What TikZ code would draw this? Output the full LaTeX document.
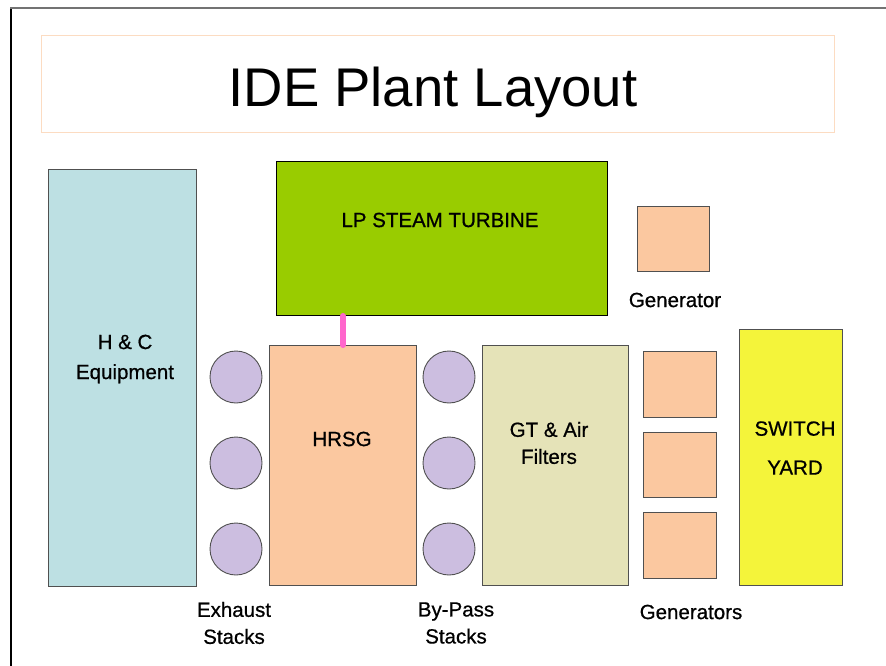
\documentclass[tikz,border=0pt]{standalone}
\usepackage{fontspec}
\setmainfont{Liberation Sans}
\newfontfamily\lblfont[FakeBold=0.7]{Liberation Sans}
\definecolor{hcblue}{HTML}{BDE0E3}
\definecolor{lpgreen}{HTML}{99CC00}
\definecolor{peach}{HTML}{FBC8A0}
\definecolor{lavender}{HTML}{CCBEE0}
\definecolor{khaki}{HTML}{E5E3B8}
\definecolor{swyellow}{HTML}{F4F43A}
\definecolor{pinkline}{HTML}{FF66CC}
\definecolor{titleedge}{HTML}{FCDCC2}
\definecolor{edgegray}{HTML}{505050}
\begin{document}
\begin{tikzpicture}[x=1pt,y=-1pt,
  blockbox/.style={draw=edgegray,line width=1pt,anchor=north west,inner sep=0pt},
  stackcirc/.style={circle,draw=edgegray,line width=0.9pt,fill=lavender,minimum size=52pt,inner sep=0pt},
  lbl/.style={align=center,font=\lblfont\fontsize{20.5}{27}\selectfont,inner sep=0pt}]
\useasboundingbox (0,0) rectangle (886,666);
% frame
\draw[black,line width=1.5pt] (11,666) -- (11,8);
\draw[edgegray!80,line width=2pt] (10.3,8) -- (886,8);
% title
\node[draw=titleedge,line width=1pt,anchor=north west,minimum width=793pt,minimum height=97pt,inner sep=0pt] (titlebox) at (41,35) {};
\node[font=\fontsize{54.5}{60}\selectfont] (title) at (433,92) {IDE Plant Layout};
% blocks
\node[blockbox,fill=hcblue,minimum width=148pt,minimum height=417pt] (hc) at (48,169) {};
\node[lbl,font=\lblfont\fontsize{20.5}{30}\selectfont] (hct) at (125,359) {H \& C\\Equipment};
\node[blockbox,fill=lpgreen,draw=black,minimum width=331pt,minimum height=154pt] (lp) at (276,161) {};
\node[lbl] (lpt) at (440,220) {LP STEAM TURBINE};
\node[blockbox,fill=peach,minimum width=72pt,minimum height=65pt] (gen1) at (637,206) {};
\node[lbl] (gen1t) at (675,300) {Generator};
\node[blockbox,fill=peach,minimum width=147pt,minimum height=240pt] (hrsg) at (269,345) {};
\node[lbl] (hrsgt) at (342,439) {HRSG};
\node[blockbox,fill=khaki,minimum width=146pt,minimum height=240pt] (gt) at (482,345) {};
\node[lbl] (gtt) at (549,443) {GT \& Air\\Filters};
\node[blockbox,fill=peach,minimum width=73pt,minimum height=66pt] (g2) at (643,351) {};
\node[blockbox,fill=peach,minimum width=73pt,minimum height=65pt] (g3) at (643,432) {};
\node[blockbox,fill=peach,minimum width=73pt,minimum height=66pt] (g4) at (643,512) {};
\node[lbl] (genst) at (691,612) {Generators};
\node[blockbox,fill=swyellow,minimum width=103pt,minimum height=256pt] (sw) at (739,329) {};
\node[lbl,font=\lblfont\fontsize{20.5}{39}\selectfont] (swt) at (795,448) {SWITCH\\YARD};
% stacks
\node[stackcirc] (e1) at (236,377) {};
\node[stackcirc] (e2) at (236,463) {};
\node[stackcirc] (e3) at (236,549) {};
\node[stackcirc] (b1) at (449,377) {};
\node[stackcirc] (b2) at (449,463) {};
\node[stackcirc] (b3) at (449,549) {};
\node[lbl] (ext) at (234,623) {Exhaust\\Stacks};
\node[lbl] (bpt) at (456,623) {By-Pass\\Stacks};
% connector
\draw[pinkline,line width=6pt,line cap=round] (hrsg.north) -- (hrsg.north |- lp.south);
\end{tikzpicture}
\end{document}
